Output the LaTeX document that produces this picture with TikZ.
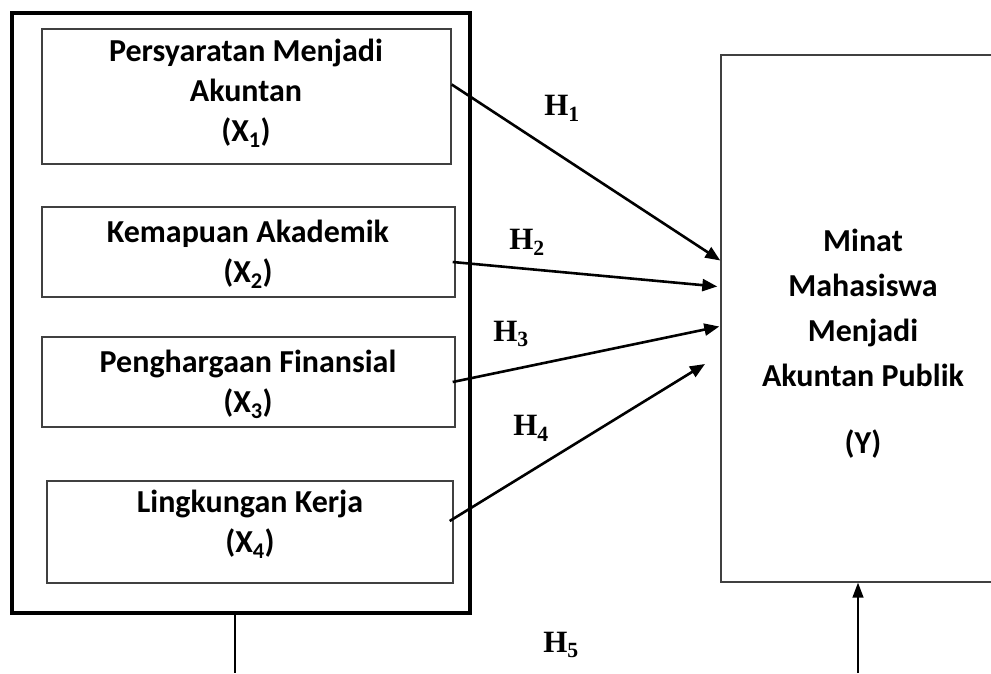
\documentclass[tikz,border=0pt]{standalone}
\usepackage{fontspec}
\setmainfont{Carlito}
\newfontfamily\hfont{Liberation Serif}
\usetikzlibrary{arrows.meta,calc}
\tikzset{
  outerbox/.style={draw, line width=4pt, minimum width=458pt, minimum height=600pt, inner sep=0pt},
  varbox/.style={draw=black!75, line width=1.4pt, inner sep=0pt},
  vartext/.style={align=center, font=\fontsize{32}{40}\selectfont\bfseries, inner sep=0pt},
  ybox/.style={draw=black!75, line width=1.4pt, minimum width=284pt, minimum height=527pt, inner sep=0pt},
  ytext/.style={align=center, font=\fontsize{32}{45}\selectfont\bfseries, inner sep=0pt},
  hlab/.style={font=\fontsize{31}{32}\selectfont\hfont\bfseries, inner sep=0pt},
  conn/.style={line width=2.6pt, -{Triangle[length=15pt,width=12pt]}},
  plain/.style={line width=1.5pt}
}
\begin{document}
\begin{tikzpicture}[x=1pt,y=-1pt]
\useasboundingbox (0,0) rectangle (991,673);
% outer group box
\node[outerbox] (outer) at (241,313) {};
% variable boxes
\node[varbox, minimum width=409pt, minimum height=135pt] (b1) at (246.5,96.5) {};
\node[varbox, minimum width=413pt, minimum height=90pt] (b2) at (248.5,252) {};
\node[varbox, minimum width=413pt, minimum height=90pt] (b3) at (248.5,382) {};
\node[varbox, minimum width=406pt, minimum height=102pt] (b4) at (250,532) {};
\node[vartext] (t1) at (246,93) {Persyaratan Menjadi\\Akuntan\\(X\textsubscript{1})};
\node[vartext] (t2) at (248,254) {Kemapuan Akademik\\(X\textsubscript{2})};
\node[vartext] (t3) at (248,384) {Penghargaan Finansial\\(X\textsubscript{3})};
\node[vartext] (t4) at (250,524) {Lingkungan Kerja\\(X\textsubscript{4})};
% dependent variable box
\node[ybox] (y) at (863,318.5) {};
\node[ytext] (yt) at (863,344) {Minat\\Mahasiswa\\Menjadi\\Akuntan Publik\\[22pt](Y)};
% hypothesis arrows
\coordinate (h4end) at (705,364);
\draw[conn] ([yshift=12pt]b1.east) -- ([yshift=58pt]y.west);
\draw[conn] ([yshift=-10pt,xshift=-3pt]b2.east) -- ([yshift=32pt,xshift=-3pt]y.west);
\draw[conn] ([xshift=-3pt]b3.east) -- ([yshift=-8pt,xshift=-1pt]y.west);
\draw[conn] ([yshift=11pt,xshift=-4pt]b4.east) -- (h4end);
% labels
\node[hlab] (h1) at (562,108) {H\textsubscript{1}};
\node[hlab] (h2) at (527,242) {H\textsubscript{2}};
\node[hlab] (h3) at (511,334) {H\textsubscript{3}};
\node[hlab] (h4) at (531,428) {H\textsubscript{4}};
\node[hlab] (h5) at (561,645) {H\textsubscript{5}};
% H5 lines
\coordinate (lb) at (235,673);
\coordinate (rb) at (858,673);
\draw[plain] ([xshift=-6pt]outer.south) -- (lb);
\draw[plain, -{Triangle[length=15pt,width=11pt]}] (rb) -- ([xshift=-5pt]y.south);
\end{tikzpicture}
\end{document}
